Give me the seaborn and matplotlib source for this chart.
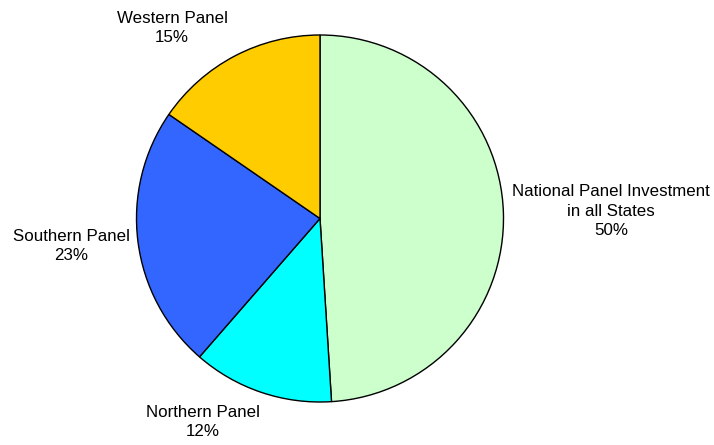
import matplotlib
matplotlib.use("Agg")
import matplotlib.pyplot as plt
import seaborn as sns

categories = ["National Panel Investment\nin all States", "Northern Panel", "Southern Panel", "Western Panel"]
shares = [49.0, 12.4, 23.2, 15.4]
pct_labels = ["50%", "12%", "23%", "15%"]
colors = ["#CCFFCC", "#00FFFF", "#3366FF", "#FFCC00"]

sns.set_theme(style="white")
plt.rcParams['font.family'] = ['Liberation Sans', 'DejaVu Sans']

W, H = 714, 445
fig = plt.figure(figsize=(W / 100, H / 100), dpi=100)
cx, cy, r = 320, 218.5, 183.5
ax = fig.add_axes([(cx - r) / W, (H - cy - r) / H, 2 * r / W, 2 * r / H])
ax.pie(shares, colors=sns.color_palette(colors), startangle=90, counterclock=False,
       wedgeprops=dict(edgecolor="black", linewidth=1.0))
ax.set_xlim(-1, 1)
ax.set_ylim(-1, 1)
ax.set_aspect("equal")
ax.axis("off")

label_pos = [(611, 211), (203, 422), (71, 246), (172, 28)]
for name, pct, (x, y) in zip(categories, pct_labels, label_pos):
    fig.text(x / W, 1 - y / H, f"{name}\n{pct}", ha="center", va="center",
             fontsize=12.2, color="black", linespacing=1.4)

fig.savefig("out.png", dpi=100, facecolor="white")
